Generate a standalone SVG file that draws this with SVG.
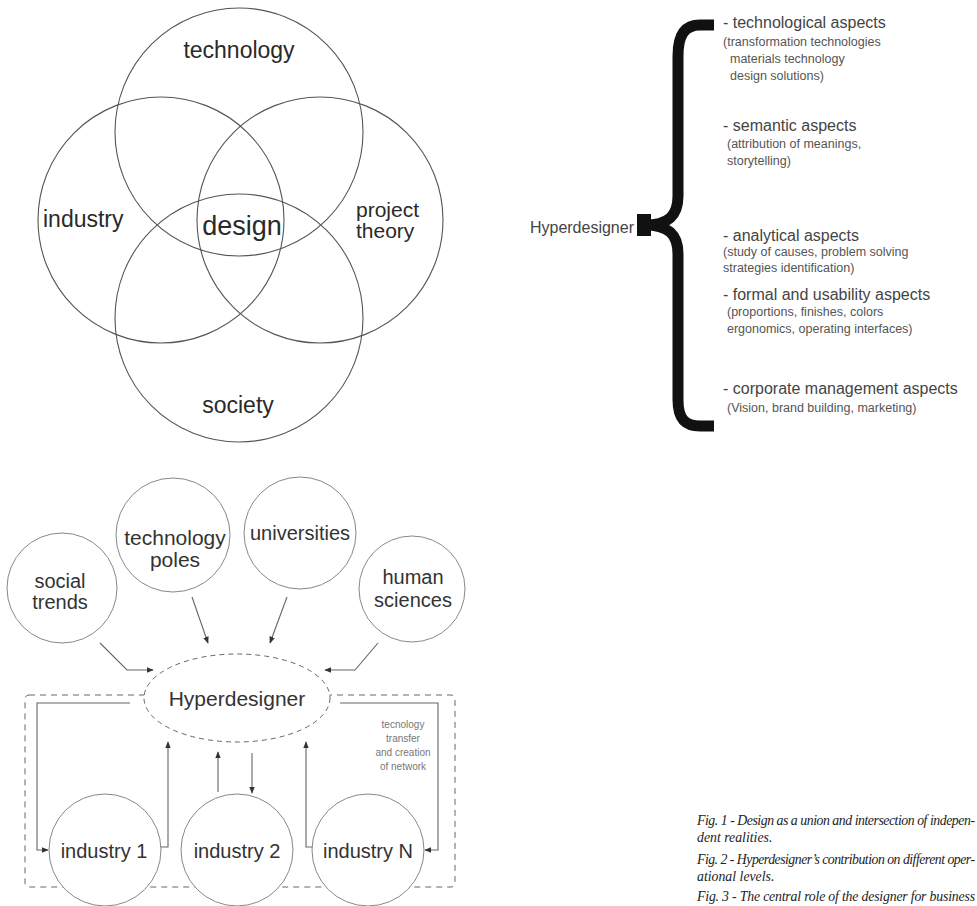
<svg xmlns="http://www.w3.org/2000/svg" width="977" height="906" viewBox="0 0 977 906">
<defs>
<style>
.venn{fill:none;stroke:#555;stroke-width:1.1}
.vt{font-family:"Liberation Sans",Arial,sans-serif;fill:#2a2a2a}
.bt{font-family:"Liberation Sans",Arial,sans-serif;fill:#444}
.head{font-size:16px}
.sub{font-size:12.5px;fill:#555}
.nc{fill:#fff;stroke:#888;stroke-width:1}
.nt{font-family:"Liberation Sans",Arial,sans-serif;font-size:20px;fill:#333;text-anchor:middle}
.nt21{font-size:21px}
.note{font-family:"Liberation Sans",Arial,sans-serif;font-size:10px;fill:#777;text-anchor:middle}
.ln{fill:none;stroke:#666;stroke-width:1.1}
.cap{font-family:"Liberation Serif","Times New Roman",serif;font-style:italic;font-size:13.8px;fill:#222}
</style>
<marker id="ah" viewBox="0 0 10 10" refX="9" refY="5" markerWidth="7" markerHeight="7" markerUnits="userSpaceOnUse" orient="auto">
<path d="M0,1 L10,5 L0,9 z" fill="#333"/>
</marker>
</defs>

<!-- Fig 1: Venn -->
<g id="fig1">
<g id="venn-technology"><circle class="venn" cx="239" cy="132" r="124"/><text class="vt" x="239" y="58" font-size="23" text-anchor="middle">technology</text></g>
<g id="venn-industry"><circle class="venn" cx="161" cy="220" r="123"/><text class="vt" x="43" y="227" font-size="23">industry</text></g>
<g id="venn-project"><circle class="venn" cx="320" cy="220" r="123"/><text class="vt" x="356" y="217" font-size="21">project</text><text class="vt" x="356" y="238" font-size="21">theory</text></g>
<g id="venn-society"><circle class="venn" cx="239" cy="318" r="124"/><text class="vt" x="238" y="413" font-size="23" text-anchor="middle">society</text></g>
<g id="venn-design"><text class="vt" x="242" y="235" font-size="27" text-anchor="middle">design</text></g>
</g>

<!-- Fig 2: Brace -->
<g id="fig2">
<g id="brace">
<path d="M714,25 H700 C684,25 678,36 678,56 V196 C678,216 668,225 645,225 C668,225 678,234 678,254 V400 C678,419 685,426 700,426 H714" fill="none" stroke="#111" stroke-width="11"/>
<rect x="637" y="214" width="14" height="22" fill="#111"/>
</g>
<g id="hyperdesigner-label"><text class="bt head" x="634" y="233" text-anchor="end">Hyperdesigner</text></g>
<g id="aspect-tech">
<text class="bt head" x="723" y="28">- technological aspects</text>
<text class="bt sub" x="723" y="46">(transformation technologies</text>
<text class="bt sub" x="730" y="63">materials technology</text>
<text class="bt sub" x="730" y="80">design solutions)</text>
</g>
<g id="aspect-semantic">
<text class="bt head" x="723" y="131">- semantic aspects</text>
<text class="bt sub" x="727" y="148">(attribution of meanings,</text>
<text class="bt sub" x="727" y="165">storytelling)</text>
</g>
<g id="aspect-analytical">
<text class="bt head" x="723" y="241">- analytical aspects</text>
<text class="bt sub" x="723" y="256">(study of causes, problem solving</text>
<text class="bt sub" x="723" y="272">strategies identification)</text>
</g>
<g id="aspect-formal">
<text class="bt head" x="723" y="300">- formal and usability aspects</text>
<text class="bt sub" x="727" y="316">(proportions, finishes, colors</text>
<text class="bt sub" x="727" y="333">ergonomics, operating interfaces)</text>
</g>
<g id="aspect-corporate">
<text class="bt head" x="723" y="394">- corporate management aspects</text>
<text class="bt sub" x="727" y="412">(Vision, brand building, marketing)</text>
</g>
</g>

<!-- Fig 3: Network -->
<g id="fig3">
<rect id="network-frame" x="25" y="695" width="430" height="192" rx="4" fill="none" stroke="#666" stroke-width="1" stroke-dasharray="6,5"/>
<g id="connectors">
<path class="ln" d="M100,643 L127,670 H153" marker-end="url(#ah)"/>
<path class="ln" d="M192,597 L208,643" marker-end="url(#ah)"/>
<path class="ln" d="M287,597 L270,643" marker-end="url(#ah)"/>
<path class="ln" d="M378,643 L355,670 H325" marker-end="url(#ah)"/>
<path class="ln" d="M130,703 H37 V850 H48" marker-end="url(#ah)"/>
<path class="ln" d="M340,703 H438 V850 H425" marker-end="url(#ah)"/>
<path class="ln" d="M160,847 H168 V742" marker-end="url(#ah)"/>
<path class="ln" d="M218,792 V752" marker-end="url(#ah)"/>
<path class="ln" d="M252,753 V793" stroke="#333" marker-end="url(#ah)"/>
<path class="ln" d="M313,847 H306 V742" marker-end="url(#ah)"/>
</g>
<g id="n-social"><circle class="nc" cx="62" cy="588" r="55"/><text class="nt" x="60" y="588">social</text><text class="nt" x="60" y="609">trends</text></g>
<g id="n-techpoles"><circle class="nc" cx="173" cy="535" r="57"/><text class="nt nt21" x="175" y="545">technology</text><text class="nt nt21" x="175" y="567">poles</text></g>
<g id="n-universities"><circle class="nc" cx="300" cy="533" r="56"/><text class="nt" x="300" y="540">universities</text></g>
<g id="n-human"><circle class="nc" cx="412" cy="589" r="53"/><text class="nt" x="413" y="584">human</text><text class="nt" x="413" y="607">sciences</text></g>
<g id="n-hyperdesigner"><ellipse cx="237" cy="698" rx="93" ry="44" fill="#fff" stroke="#666" stroke-width="1" stroke-dasharray="5,4"/><text class="nt nt21" x="237" y="706">Hyperdesigner</text></g>
<g id="n-industry1"><circle class="nc" cx="105" cy="850" r="56"/><text class="nt" x="104" y="858">industry 1</text></g>
<g id="n-industry2"><circle class="nc" cx="237" cy="850" r="56"/><text class="nt" x="237" y="858">industry 2</text></g>
<g id="n-industryN"><circle class="nc" cx="368" cy="850" r="56"/><text class="nt" x="368" y="858">industry N</text></g>
<g id="network-note">
<text class="note" x="403" y="728">tecnology</text>
<text class="note" x="403" y="742">transfer</text>
<text class="note" x="403" y="756">and creation</text>
<text class="note" x="403" y="770">of network</text>
</g>
</g>

<!-- Captions -->
<g id="captions">
<text class="cap" x="697" y="825" textLength="278" lengthAdjust="spacing">Fig. 1 - Design as a union and intersection of indepen-</text>
<text class="cap" x="697" y="842">dent realities.</text>
<text class="cap" x="697" y="864" textLength="278" lengthAdjust="spacing">Fig. 2 - Hyperdesigner’s contribution on different oper-</text>
<text class="cap" x="697" y="881">ational levels.</text>
<text class="cap" x="697" y="901" textLength="278" lengthAdjust="spacing">Fig. 3 - The central role of the designer for business</text>
<text class="cap" x="697" y="916">innovation.</text>
</g>
</svg>
